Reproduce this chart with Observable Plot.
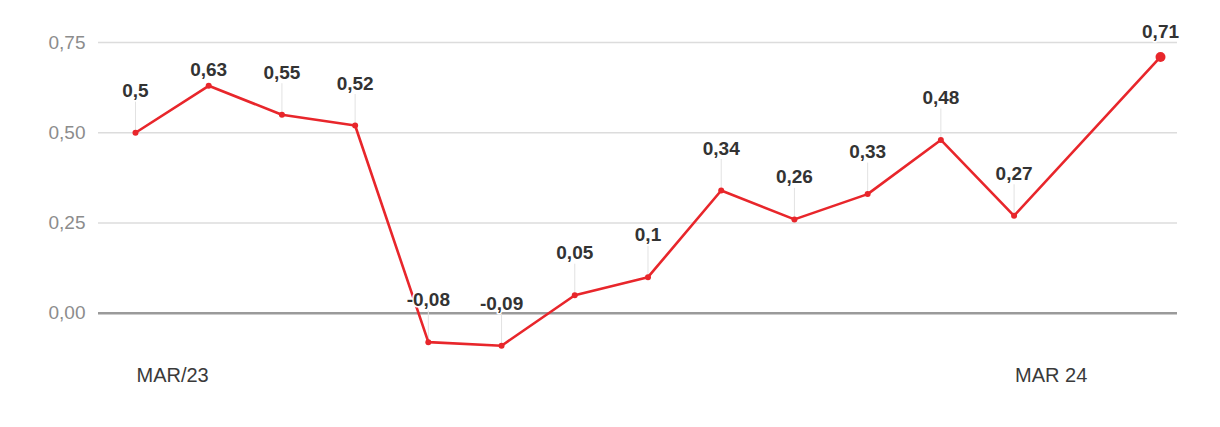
<!DOCTYPE html>
<html>
<head>
<meta charset="utf-8">
<script src="https://cdn.jsdelivr.net/npm/d3@7"></script>
<script src="https://cdn.jsdelivr.net/npm/@observablehq/plot@0.6"></script>
<style>
  html, body { margin: 0; padding: 0; background: #fff; }
  #chart { width: 1220px; height: 427px; }
</style>
</head>
<body>
<div id="chart"></div>
<script>
// Month index (0 = MAR/23 ... 12 = MAR 24, 14 = MAY 24)
const pointIdx = [0, 1, 2, 3, 4, 5, 6, 7, 8, 9, 10, 11, 12, 14];
const values = [0.5, 0.63, 0.55, 0.52, -0.08, -0.09, 0.05, 0.1, 0.34, 0.26, 0.33, 0.48, 0.27, 0.71];
const valueLabels = ["0,5", "0,63", "0,55", "0,52", "-0,08", "-0,09", "0,05", "0,1", "0,34", "0,26", "0,33", "0,48", "0,27", "0,71"];
const yTicks = [0, 0.25, 0.5, 0.75];
const yTickLabels = ["0,00", "0,25", "0,50", "0,75"];
const gridTicks = [0.25, 0.5, 0.75];
const xTickIdx = [0, 12];
const xTickLabels = ["MAR/23", "MAR 24"];

const W = 1220, H = 427;
const mTop = 42, mBottom = 24, mLeft = 98, mRight = 43;
const yDomain = [-0.25, 0.75];
const xDomain = [-0.505, 14.232];
const pxPerUnit = (H - mTop - mBottom) / (yDomain[1] - yDomain[0]);
const red = "#e8262b";
const font = "'Liberation Sans', Arial, Helvetica, sans-serif";

const data = pointIdx.map((i, k) => ({ i, v: values[k], label: valueLabels[k], last: k === pointIdx.length - 1 }));
// label offset above the point, in pixels
const off = d => d.v >= 0.7 ? 25 : d.v >= 0.6 ? 16 : 42;

const chart = Plot.plot({
  width: W,
  height: H,
  marginTop: mTop,
  marginBottom: mBottom,
  marginLeft: mLeft,
  marginRight: mRight,
  style: { fontFamily: font, background: "#fff", overflow: "visible" },
  x: { domain: xDomain, axis: null },
  y: { domain: yDomain, axis: null },
  marks: [
    Plot.ruleY(gridTicks, { stroke: "#dcdcdc", strokeWidth: 1.6 }),
    Plot.ruleY([0], { stroke: "#9a9a9a", strokeWidth: 2.6 }),
    Plot.axisY({
      ticks: yTicks,
      tickFormat: (d) => yTickLabels[yTicks.indexOf(d)],
      tickSize: 0,
      tickPadding: 13,
      fontSize: 19,
      fill: "#8c8c8c",
      label: null
    }),
    Plot.axisX({
      ticks: xTickIdx,
      tickFormat: d => xTickLabels[xTickIdx.indexOf(d)],
      tickSize: 0,
      textAnchor: "start",
      lineAnchor: "middle",
      dx: 1,
      dy: -37,
      fontSize: 20,
      fill: "#3a3a3a",
      label: null
    }),
    Plot.ruleX(data.filter(d => off(d) > 30), {
      x: "i",
      y1: "v",
      y2: d => d.v + (off(d) - 11) / pxPerUnit,
      stroke: "#e2e2e2",
      strokeWidth: 1
    }),
    Plot.line(data, { x: "i", y: "v", stroke: red, strokeWidth: 2.6, curve: "linear" }),
    Plot.dot(data, { x: "i", y: "v", r: d => d.last ? 5.5 : 2, fill: red }),
    Plot.text(data, {
      x: "i",
      y: d => d.v + off(d) / pxPerUnit,
      text: "label",
      fontSize: 19,
      fontWeight: "bold",
      fill: "#333",
      stroke: "#fff",
      strokeWidth: 3,
      paintOrder: "stroke",
      lineAnchor: "middle"
    })
  ]
});
document.getElementById("chart").appendChild(chart);
</script>
</body>
</html>
